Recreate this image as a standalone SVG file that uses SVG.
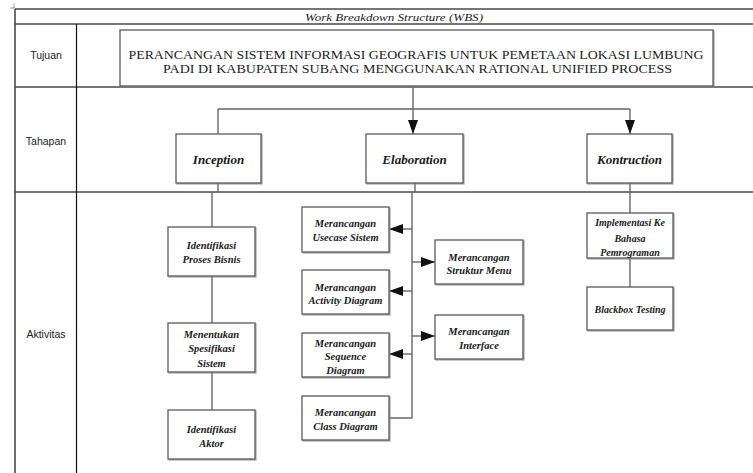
<svg xmlns="http://www.w3.org/2000/svg" width="753" height="473" viewBox="0 0 753 473">
  <defs>
    <marker id="arrow" viewBox="0 0 14 10" markerUnits="userSpaceOnUse" markerWidth="14" markerHeight="10" refX="14" refY="5" orient="auto">
      <path d="M0,0 L14,5 L0,10 z" fill="#111"/>
    </marker>
    <filter id="shadow" x="-10%" y="-10%" width="130%" height="130%">
      <feDropShadow dx="1" dy="1" stdDeviation="0.6" flood-color="#888" flood-opacity="0.7"/>
    </filter>
  </defs>
  <style>
    .grid { stroke: #4a4a4a; stroke-width: 1.6; fill: none; }
    .coldiv { stroke: #111; stroke-width: 1.2; fill: none; }
    .box { fill: #fff; stroke: #5a5a5a; stroke-width: 1.3; filter: url(#shadow); }
    .wire { stroke: #666; stroke-width: 1.4; fill: none; }
    .rowlabel { font-family: "Liberation Sans", Arial, sans-serif; font-size: 10.5px; fill: #222; text-anchor: middle; }
    .title { font-family: "Liberation Serif", "Times New Roman", serif; font-style: italic; font-size: 11px; fill: #222; }
    .goal { font-family: "Liberation Serif", "Times New Roman", serif; font-size: 13.5px; fill: #222; text-anchor: middle; }
    .phase { font-family: "Liberation Serif", "Times New Roman", serif; font-style: italic; font-weight: bold; font-size: 13px; fill: #1a1a1a; text-anchor: middle; }
    .act { font-family: "Liberation Serif", "Times New Roman", serif; font-style: italic; font-weight: bold; font-size: 10.5px; fill: #1a1a1a; text-anchor: middle; }
    .act-sm { font-size: 10px; }
  </style>

  <rect width="753" height="473" fill="#fff"/>

  <!-- table frame -->
  <g id="table">
    <path class="grid" d="M15,9 H753 M15,24 H753 M15,87 H753 M15,192 H753 M15,9 V473"/>
    <path class="coldiv" d="M76.5,24 V473"/>
    <path d="M14,3.5 V8 M10,8 H15" stroke="#999" stroke-width="1" fill="none"/>
    <text class="title" x="305" y="21" textLength="178" lengthAdjust="spacingAndGlyphs">Work Breakdown Structure (WBS)</text>
    <text class="rowlabel" x="46" y="59">Tujuan</text>
    <text class="rowlabel" x="46" y="145">Tahapan</text>
    <text class="rowlabel" x="46" y="338">Aktivitas</text>
  </g>

  <!-- connectors -->
  <g id="connectors">
    <path class="wire" d="M413,86 V134" marker-end="url(#arrow)"/>
    <path class="wire" d="M218,109 H630"/>
    <path class="wire" d="M218,109 V134"/>
    <path class="wire" d="M630,109 V134" marker-end="url(#arrow)"/>

    <path class="wire" d="M218,183 V192"/>
    <path class="wire" d="M212,192 V227"/>
    <path class="wire" d="M212,276 V323"/>
    <path class="wire" d="M212,372 V410"/>

    <path class="wire" d="M415,183 V192"/>
    <path class="wire" d="M412,192 V418 H389"/>
    <path class="wire" d="M412,229 H389" marker-end="url(#arrow)"/>
    <path class="wire" d="M412,291 H389" marker-end="url(#arrow)"/>
    <path class="wire" d="M412,354 H389" marker-end="url(#arrow)"/>
    <path class="wire" d="M412,262 H435" marker-end="url(#arrow)"/>
    <path class="wire" d="M412,336 H435" marker-end="url(#arrow)"/>

    <path class="wire" d="M630,183 V213"/>
    <path class="wire" d="M630,258 V287"/>
  </g>

  <!-- goal -->
  <g id="goal">
    <rect class="box" x="120" y="30" width="593" height="56"/>
    <text class="goal" x="416" y="59" textLength="575" lengthAdjust="spacingAndGlyphs">PERANCANGAN SISTEM INFORMASI GEOGRAFIS UNTUK PEMETAAN LOKASI LUMBUNG</text>
    <text class="goal" x="417.5" y="73" textLength="509" lengthAdjust="spacingAndGlyphs">PADI DI KABUPATEN SUBANG MENGGUNAKAN RATIONAL UNIFIED PROCESS</text>
  </g>

  <!-- phases -->
  <g id="inception">
    <rect class="box" x="176" y="134" width="85" height="49"/>
    <text class="phase" x="218.5" y="164">Inception</text>
  </g>
  <g id="elaboration">
    <rect class="box" x="366" y="134" width="97" height="49"/>
    <text class="phase" x="414.5" y="164">Elaboration</text>
  </g>
  <g id="kontruction">
    <rect class="box" x="587" y="134" width="85" height="49"/>
    <text class="phase" x="629.5" y="164">Kontruction</text>
  </g>

  <!-- inception activities -->
  <g id="identifikasi-proses-bisnis">
    <rect class="box" x="168" y="227" width="87" height="49"/>
    <text class="act" x="211.5" y="248.5">Identifikasi</text>
    <text class="act" x="211.5" y="263">Proses Bisnis</text>
  </g>
  <g id="menentukan-spesifikasi">
    <rect class="box" x="168" y="323" width="87" height="49"/>
    <text class="act" x="211.5" y="337.5">Menentukan</text>
    <text class="act" x="211.5" y="351.5">Spesifikasi</text>
    <text class="act" x="211.5" y="366.5">Sistem</text>
  </g>
  <g id="identifikasi-aktor">
    <rect class="box" x="168" y="410" width="87" height="49"/>
    <text class="act" x="211.5" y="432.5">Identifikasi</text>
    <text class="act" x="211.5" y="446.5">Aktor</text>
  </g>

  <!-- elaboration activities -->
  <g id="usecase">
    <rect class="box" x="302" y="207" width="87" height="45"/>
    <text class="act" x="345.5" y="226.5">Merancangan</text>
    <text class="act" x="345.5" y="240.5">Usecase Sistem</text>
  </g>
  <g id="activity">
    <rect class="box" x="302" y="270" width="87" height="44"/>
    <text class="act" x="345.5" y="290.5">Merancangan</text>
    <text class="act" x="345.5" y="303.5">Activity Diagram</text>
  </g>
  <g id="sequence">
    <rect class="box" x="302" y="333" width="87" height="44"/>
    <text class="act" x="345.5" y="346.5">Merancangan</text>
    <text class="act" x="345.5" y="359.5">Sequence</text>
    <text class="act" x="345.5" y="373.5">Diagram</text>
  </g>
  <g id="class-diagram">
    <rect class="box" x="302" y="396" width="87" height="44"/>
    <text class="act" x="345.5" y="415.5">Merancangan</text>
    <text class="act" x="345.5" y="429.5">Class Diagram</text>
  </g>
  <g id="struktur-menu">
    <rect class="box" x="435" y="240" width="88" height="44"/>
    <text class="act" x="479" y="260.5">Merancangan</text>
    <text class="act" x="479" y="273.5">Struktur Menu</text>
  </g>
  <g id="interface">
    <rect class="box" x="435" y="315" width="88" height="44"/>
    <text class="act" x="479" y="334.5">Merancangan</text>
    <text class="act" x="479" y="348.5">Interface</text>
  </g>

  <!-- construction activities -->
  <g id="implementasi">
    <rect class="box" x="587" y="213" width="86" height="45"/>
    <text class="act act-sm" x="630" y="225.5">Implementasi Ke</text>
    <text class="act act-sm" x="630" y="241.5">Bahasa</text>
    <text class="act act-sm" x="630" y="255.5">Pemrograman</text>
  </g>
  <g id="blackbox">
    <rect class="box" x="587" y="287" width="86" height="43"/>
    <text class="act act-sm" x="630" y="312.5">Blackbox Testing</text>
  </g>
</svg>
